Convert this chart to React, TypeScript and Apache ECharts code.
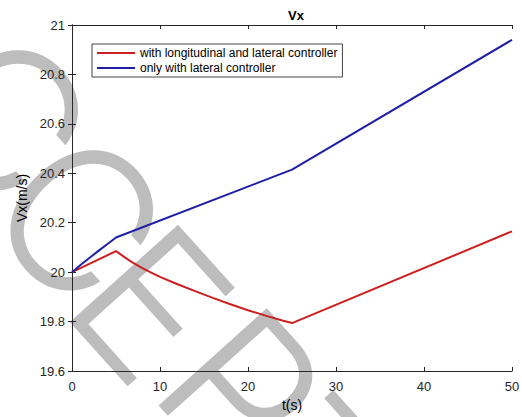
import React, { useEffect, useRef } from "react";
import * as echarts from "echarts";

const titleText = "Vx";
const xName = "t(s)";
const yName = "Vx(m/s)";
const seriesNames = [
  "with longitudinal and lateral controller",
  "only with lateral controller",
];

// red: with longitudinal and lateral controller
const redT = [0, 5, 6, 7, 8, 9, 10, 12, 14, 16, 18, 20, 22, 24, 25, 50];
const redV = [
  20, 20.085, 20.06, 20.036, 20.016, 19.998, 19.981, 19.951, 19.923, 19.896,
  19.87, 19.846, 19.824, 19.803, 19.794, 20.165,
];

// blue: only with lateral controller
const blueT = [0, 1, 2, 3, 4, 5, 25, 50];
const blueV = [20, 20.03, 20.058, 20.086, 20.113, 20.14, 20.415, 20.94];

const xTicks = { min: 0, max: 50, interval: 10 };
const yTicks = { min: 19.6, max: 21, interval: 0.2 };

const watermarkLetters = ["A", "C", "C", "E", "P", "T", "E", "D"];

export default function App() {
  const ref = useRef<HTMLDivElement>(null);

  useEffect(() => {
    if (!ref.current) return;
    const chart = echarts.init(ref.current, undefined, { renderer: "svg" });
    const font = "Liberation Sans, Arial, Helvetica, sans-serif";
    const axisColor = "#262626";

    const centers: [number, number][] = [
      [-88, 28],
      [5, 118],
      [80, 218],
      [151, 303],
      [242, 389],
      [315, 478],
      [395, 560],
      [480, 645],
    ];
    const rot = (-48 * Math.PI) / 180;
    const watermark = watermarkLetters.map((ch, i) => ({
      type: "text",
      x: centers[i][0],
      y: centers[i][1],
      rotation: rot,
      z: -10,
      silent: true,
      style: {
        text: ch,
        fontSize: 200,
        fontFamily: "Inter, Liberation Sans, sans-serif",
        fontWeight: 300,
        fill: "#bdbdbd",
        align: "center",
        verticalAlign: "middle",
      },
    }));

    const pairs = (t: number[], v: number[]) => t.map((x, i) => [x, v[i]]);

    chart.setOption({
      animation: false,
      backgroundColor: "#fff",
      title: {
        text: titleText,
        left: 291,
        top: 4,
        textAlign: "center",
        textStyle: { fontSize: 13, fontWeight: "bold", color: "#000", fontFamily: font },
      },
      graphic: { elements: watermark },
      grid: { left: 72, right: 10, top: 25, bottom: 46, outerBoundsMode: "none" },
      legend: {
        orient: "vertical",
        left: 92,
        top: 44,
        padding: [1.5, 5, 1.5, 5],
        itemGap: 0,
        itemWidth: 38,
        itemHeight: 2,
        icon: "rect",
        borderColor: "#444",
        borderWidth: 1,
        backgroundColor: "#fff",
        borderRadius: 0,
        textStyle: { fontSize: 12, color: "#000", fontFamily: font, lineHeight: 15 },
        data: seriesNames,
      },
      xAxis: [
        {
          type: "value",
          ...xTicks,
          name: xName,
          nameLocation: "middle",
          nameGap: 26,
          nameTextStyle: { fontSize: 14, color: "#000", fontFamily: font },
          axisLine: { lineStyle: { color: axisColor, width: 1 } },
          axisTick: { inside: true, length: 4, lineStyle: { color: axisColor } },
          axisLabel: { fontSize: 13, color: axisColor, fontFamily: font, margin: 9 },
          splitLine: { show: false },
        },
        {
          type: "value",
          position: "top",
          ...xTicks,
          axisLine: { lineStyle: { color: axisColor, width: 1 } },
          axisTick: { inside: true, length: 4, lineStyle: { color: axisColor } },
          axisLabel: { show: false },
          splitLine: { show: false },
        },
      ],
      yAxis: [
        {
          type: "value",
          ...yTicks,
          name: yName,
          nameLocation: "middle",
          nameGap: 38,
          nameTextStyle: { fontSize: 14, color: "#000", fontFamily: font },
          axisLine: { show: true, lineStyle: { color: axisColor, width: 1 } },
          axisTick: { show: true, inside: true, length: 4, lineStyle: { color: axisColor } },
          axisLabel: {
            fontSize: 13,
            color: axisColor,
            fontFamily: font,
            margin: 7,
            formatter: (v: number) => String(parseFloat(v.toFixed(1))),
          },
          splitLine: { show: false },
        },
        {
          type: "value",
          position: "right",
          ...yTicks,
          axisLine: { show: true, lineStyle: { color: axisColor, width: 1 } },
          axisTick: { show: true, inside: true, length: 4, lineStyle: { color: axisColor } },
          axisLabel: { show: false },
          splitLine: { show: false },
        },
      ],
      series: [
        {
          name: seriesNames[0],
          type: "line",
          xAxisIndex: 0,
          yAxisIndex: 0,
          data: pairs(redT, redV),
          symbol: "none",
          color: "#cc1f1f",
          lineStyle: { width: 2, color: "#cc1f1f" },
        },
        {
          name: seriesNames[1],
          type: "line",
          xAxisIndex: 0,
          yAxisIndex: 0,
          data: pairs(blueT, blueV),
          symbol: "none",
          color: "#1f1fa6",
          lineStyle: { width: 2, color: "#1f1fa6" },
        },
      ],
    });

    return () => chart.dispose();
  }, []);

  return (
    <div
      ref={ref}
      style={{ position: "absolute", left: 0, top: 0, width: 522, height: 417 }}
    />
  );
}
